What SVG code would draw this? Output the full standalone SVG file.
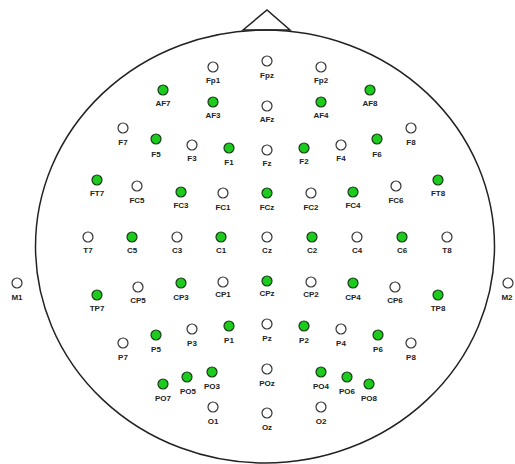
<svg xmlns="http://www.w3.org/2000/svg" width="515" height="464" viewBox="0 0 515 464">
<style>
.e{fill:#fff;stroke:#333;stroke-width:1.2}
.g{fill:#1ccc1c;stroke:#1a3a1a;stroke-width:1.2}
.t{font-family:"Liberation Sans",Arial,sans-serif;font-size:8px;font-weight:bold;fill:#222;text-anchor:middle}
.h{fill:none;stroke:#222;stroke-width:1.5}
</style>
<rect width="515" height="464" fill="#fff"/>
<g id="head">
<ellipse class="h" cx="265" cy="246.5" rx="229.5" ry="216.5"/>
<polygon class="h" points="243,30 267,10 290,30"/>
</g>
<g id="connectors"></g>
<g id="Fp1"><circle class="e" cx="213" cy="67" r="5"/><text class="t" x="213" y="83">Fp1</text></g>
<g id="Fpz"><circle class="e" cx="267" cy="61" r="5"/><text class="t" x="267" y="78">Fpz</text></g>
<g id="Fp2"><circle class="e" cx="321" cy="67" r="5"/><text class="t" x="321" y="83">Fp2</text></g>
<g id="AF7"><circle class="g" cx="163" cy="90" r="5"/><text class="t" x="163" y="106">AF7</text></g>
<g id="AF3"><circle class="g" cx="213" cy="102" r="5"/><text class="t" x="213" y="118">AF3</text></g>
<g id="AFz"><circle class="e" cx="267" cy="106" r="5"/><text class="t" x="267" y="122">AFz</text></g>
<g id="AF4"><circle class="g" cx="321" cy="102" r="5"/><text class="t" x="321" y="118">AF4</text></g>
<g id="AF8"><circle class="g" cx="370" cy="90" r="5"/><text class="t" x="370" y="106">AF8</text></g>
<g id="F7"><circle class="e" cx="123" cy="128" r="5"/><text class="t" x="123" y="145">F7</text></g>
<g id="F5"><circle class="g" cx="156" cy="139" r="5"/><text class="t" x="156" y="157">F5</text></g>
<g id="F3"><circle class="e" cx="192" cy="145" r="5"/><text class="t" x="192" y="161">F3</text></g>
<g id="F1"><circle class="g" cx="229" cy="148" r="5"/><text class="t" x="229" y="165">F1</text></g>
<g id="Fz"><circle class="e" cx="267" cy="150" r="5"/><text class="t" x="267" y="166">Fz</text></g>
<g id="F2"><circle class="g" cx="304" cy="148" r="5"/><text class="t" x="304" y="164">F2</text></g>
<g id="F4"><circle class="e" cx="341" cy="145" r="5"/><text class="t" x="341" y="161">F4</text></g>
<g id="F6"><circle class="g" cx="377" cy="139" r="5"/><text class="t" x="377" y="157">F6</text></g>
<g id="F8"><circle class="e" cx="411" cy="128" r="5"/><text class="t" x="411" y="145">F8</text></g>
<g id="FT7"><circle class="g" cx="97" cy="180" r="5"/><text class="t" x="97" y="196">FT7</text></g>
<g id="FC5"><circle class="e" cx="137" cy="186" r="5"/><text class="t" x="137" y="203">FC5</text></g>
<g id="FC3"><circle class="g" cx="181" cy="192" r="5"/><text class="t" x="181" y="208">FC3</text></g>
<g id="FC1"><circle class="e" cx="223" cy="193" r="5"/><text class="t" x="223" y="210">FC1</text></g>
<g id="FCz"><circle class="g" cx="267" cy="193" r="5"/><text class="t" x="267" y="210">FCz</text></g>
<g id="FC2"><circle class="e" cx="311" cy="193" r="5"/><text class="t" x="311" y="210">FC2</text></g>
<g id="FC4"><circle class="g" cx="353" cy="192" r="5"/><text class="t" x="353" y="208">FC4</text></g>
<g id="FC6"><circle class="e" cx="396" cy="186" r="5"/><text class="t" x="396" y="203">FC6</text></g>
<g id="FT8"><circle class="g" cx="438" cy="180" r="5"/><text class="t" x="438" y="196">FT8</text></g>
<g id="T7"><circle class="e" cx="88" cy="237" r="5"/><text class="t" x="88" y="253">T7</text></g>
<g id="C5"><circle class="g" cx="132" cy="237" r="5"/><text class="t" x="132" y="253">C5</text></g>
<g id="C3"><circle class="e" cx="177" cy="237" r="5"/><text class="t" x="177" y="253">C3</text></g>
<g id="C1"><circle class="g" cx="221" cy="237" r="5"/><text class="t" x="221" y="253">C1</text></g>
<g id="Cz"><circle class="e" cx="267" cy="237" r="5"/><text class="t" x="267" y="253">Cz</text></g>
<g id="C2"><circle class="g" cx="312" cy="237" r="5"/><text class="t" x="312" y="253">C2</text></g>
<g id="C4"><circle class="e" cx="357" cy="237" r="5"/><text class="t" x="357" y="253">C4</text></g>
<g id="C6"><circle class="g" cx="402" cy="237" r="5"/><text class="t" x="402" y="253">C6</text></g>
<g id="T8"><circle class="e" cx="447" cy="237" r="5"/><text class="t" x="447" y="253">T8</text></g>
<g id="M1"><circle class="e" cx="17" cy="283" r="5"/><text class="t" x="17" y="300">M1</text></g>
<g id="M2"><circle class="e" cx="508" cy="283" r="5"/><text class="t" x="507" y="300">M2</text></g>
<g id="TP7"><circle class="g" cx="97" cy="295" r="5"/><text class="t" x="97" y="311">TP7</text></g>
<g id="CP5"><circle class="e" cx="138" cy="287" r="5"/><text class="t" x="138" y="303">CP5</text></g>
<g id="CP3"><circle class="g" cx="181" cy="283" r="5"/><text class="t" x="181" y="300">CP3</text></g>
<g id="CP1"><circle class="e" cx="223" cy="282" r="5"/><text class="t" x="223" y="297">CP1</text></g>
<g id="CPz"><circle class="g" cx="267" cy="281" r="5"/><text class="t" x="267" y="296">CPz</text></g>
<g id="CP2"><circle class="e" cx="311" cy="282" r="5"/><text class="t" x="311" y="297">CP2</text></g>
<g id="CP4"><circle class="g" cx="353" cy="283" r="5"/><text class="t" x="353" y="300">CP4</text></g>
<g id="CP6"><circle class="e" cx="395" cy="287" r="5"/><text class="t" x="395" y="303">CP6</text></g>
<g id="TP8"><circle class="g" cx="438" cy="295" r="5"/><text class="t" x="438" y="311">TP8</text></g>
<g id="P7"><circle class="e" cx="123" cy="343" r="5"/><text class="t" x="123" y="360">P7</text></g>
<g id="P5"><circle class="g" cx="156" cy="335" r="5"/><text class="t" x="156" y="352">P5</text></g>
<g id="P3"><circle class="e" cx="192" cy="329" r="5"/><text class="t" x="192" y="346">P3</text></g>
<g id="P1"><circle class="g" cx="229" cy="326" r="5"/><text class="t" x="229" y="343">P1</text></g>
<g id="Pz"><circle class="e" cx="267" cy="324" r="5"/><text class="t" x="267" y="341">Pz</text></g>
<g id="P2"><circle class="g" cx="304" cy="326" r="5"/><text class="t" x="304" y="343">P2</text></g>
<g id="P4"><circle class="e" cx="341" cy="329" r="5"/><text class="t" x="341" y="346">P4</text></g>
<g id="P6"><circle class="g" cx="378" cy="335" r="5"/><text class="t" x="378" y="352">P6</text></g>
<g id="P8"><circle class="e" cx="411" cy="343" r="5"/><text class="t" x="411" y="360">P8</text></g>
<g id="PO7"><circle class="g" cx="163" cy="384" r="5"/><text class="t" x="163" y="401">PO7</text></g>
<g id="PO5"><circle class="g" cx="187" cy="377" r="5"/><text class="t" x="188" y="394">PO5</text></g>
<g id="PO3"><circle class="g" cx="212" cy="372" r="5"/><text class="t" x="212" y="389">PO3</text></g>
<g id="POz"><circle class="e" cx="267" cy="369" r="5"/><text class="t" x="267" y="386">POz</text></g>
<g id="PO4"><circle class="g" cx="321" cy="372" r="5"/><text class="t" x="321" y="389">PO4</text></g>
<g id="PO6"><circle class="g" cx="347" cy="377" r="5"/><text class="t" x="347" y="394">PO6</text></g>
<g id="PO8"><circle class="g" cx="369" cy="384" r="5"/><text class="t" x="369" y="401">PO8</text></g>
<g id="O1"><circle class="e" cx="213" cy="407" r="5"/><text class="t" x="213" y="424">O1</text></g>
<g id="Oz"><circle class="e" cx="267" cy="413" r="5"/><text class="t" x="267" y="430">Oz</text></g>
<g id="O2"><circle class="e" cx="321" cy="407" r="5"/><text class="t" x="321" y="424">O2</text></g>
</svg>
